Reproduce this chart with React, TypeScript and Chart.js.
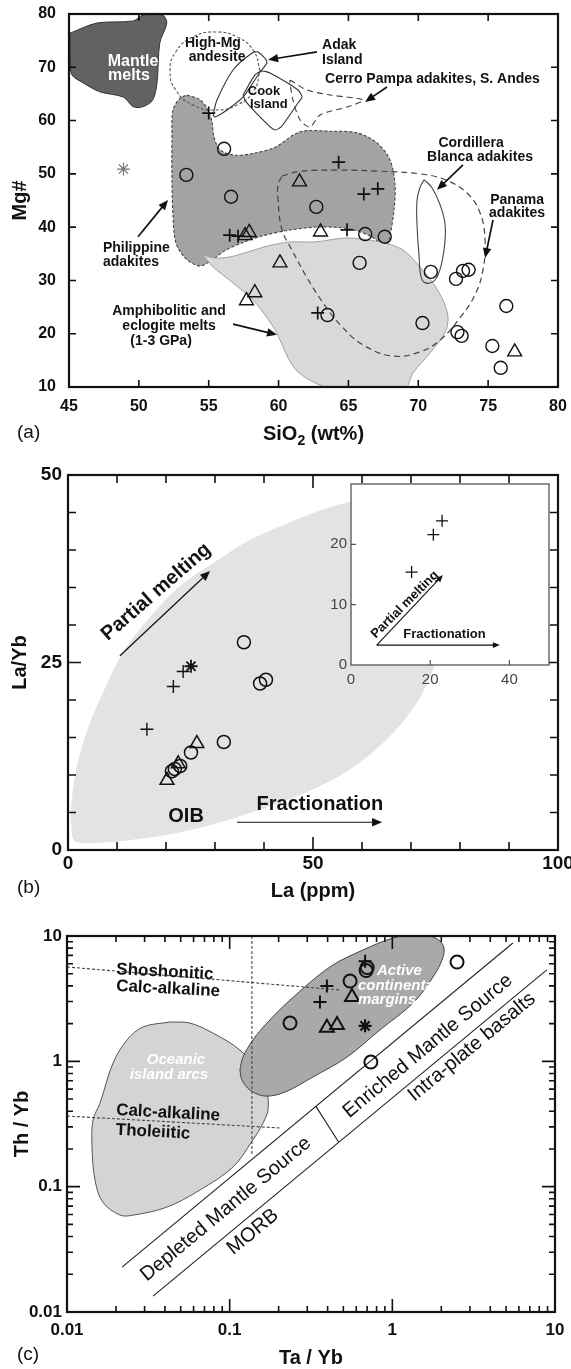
import React, { useEffect, useRef } from 'react';
import { Chart, registerables } from 'chart.js';

Chart.register(...registerables);

const FONT = '"Liberation Sans", Arial, Helvetica, sans-serif';
const INK = '#111';

// ---------------- Panel (a): SiO2 vs Mg# ----------------
const aXTicks = [45, 50, 55, 60, 65, 70, 75, 80];
const aXLabels = ['45', '50', '55', '60', '65', '70', '75', '80'];
const aYTicks = [10, 20, 30, 40, 50, 60, 70, 80];
const aYLabels = ['10', '20', '30', '40', '50', '60', '70', '80'];

const aCircleSiO2 = [56.1, 53.4, 56.6, 62.7, 66.2, 67.6, 65.8, 70.9, 72.7, 73.2, 73.6, 76.3, 63.5, 70.3, 72.8, 73.1, 75.3, 75.9];
const aCircleMg = [54.7, 49.8, 45.7, 43.8, 38.7, 38.2, 33.3, 31.6, 30.3, 31.8, 32.0, 25.2, 23.5, 22.0, 20.3, 19.6, 17.7, 13.6];
const aCrossSiO2 = [55.0, 64.3, 66.1, 67.1, 56.5, 57.1, 64.9, 62.8];
const aCrossMg = [61.4, 52.2, 46.2, 47.2, 38.5, 38.3, 39.5, 23.9];
const aTriSiO2 = [61.5, 57.6, 57.9, 63.0, 60.1, 58.3, 57.7, 76.9];
const aTriMg = [48.5, 38.4, 39.0, 39.1, 33.3, 27.7, 26.2, 16.6];
const aStarSiO2 = [48.9];
const aStarMg = [50.9];

const mantleX = [45.07, 47.0, 49.6, 50.3, 51.7, 52.0, 51.5, 51.3, 51.0, 50.3, 49.6, 48.9, 47.2, 46.0, 45.2, 45.1];
const mantleY = [76.4, 78.3, 78.7, 79.8, 79.8, 78.3, 74.6, 67.1, 63.9, 62.6, 62.6, 64.4, 65.4, 67.1, 68.6, 71.4];

const philX = [53.45, 54.38, 54.95, 55.24, 55.38, 55.81, 56.88, 58.31, 59.75, 61.54, 63.68, 65.62, 67.05, 67.98, 68.34, 68.26, 67.98, 67.69, 66.69, 65.11, 62.97, 60.82, 58.82, 57.38, 56.24, 55.24, 54.38, 53.38, 52.66, 52.44, 52.37, 52.37, 52.44, 52.95];
const philY = [64.8, 63.9, 62.0, 59.7, 56.9, 54.5, 53.5, 53.9, 55.0, 57.9, 58.0, 57.7, 55.8, 52.6, 47.9, 43.2, 38.5, 36.3, 38.16, 39.66, 40.04, 39.47, 38.35, 37.04, 35.72, 33.85, 32.72, 34.03, 37.0, 42.3, 48.9, 56.4, 62.0, 64.2];

const amphX = [54.59, 55.45, 56.52, 57.81, 59.24, 60.82, 62.61, 64.90, 67.26, 68.91, 70.13, 71.06, 71.77, 72.13, 71.92, 70.84, 69.62, 69.05, 64.40, 62.61, 61.39, 60.68, 60.10, 59.53, 58.17, 56.74, 55.31];
const amphY = [34.78, 34.22, 34.41, 35.35, 36.47, 37.22, 37.22, 37.97, 37.22, 35.72, 32.5, 29.5, 26.3, 23.1, 20.2, 16.4, 12.65, 9.83, 9.27, 10.77, 12.83, 15.46, 18.84, 21.65, 26.34, 29.53, 32.53];

const highMgX = [58.67, 58.24, 57.06, 55.45, 53.84, 52.66, 52.23, 52.66, 53.84, 55.45, 57.06, 58.24];
const highMgY = [69.31, 72.96, 75.65, 76.62, 75.65, 72.96, 69.31, 65.65, 62.96, 61.99, 62.96, 65.65];

const adakX = [55.31, 55.59, 56.74, 58.10, 58.53, 59.17, 58.67, 57.46, 56.31, 55.45];
const adakY = [61.05, 63.86, 69.49, 72.68, 72.87, 71.0, 69.12, 64.43, 61.99, 60.68];

const cookX = [57.46, 58.31, 58.82, 59.39, 61.39, 61.68, 61.39, 60.18, 59.75, 59.32, 57.67];
const cookY = [64.80, 68.56, 69.31, 68.93, 65.74, 64.43, 63.30, 58.80, 58.24, 58.99, 63.49];

const cerroX = [60.82, 62.04, 63.68, 66.05, 64.90, 62.97, 62.25, 61.54, 61.03, 60.82];
const cerroY = [67.62, 65.74, 64.80, 63.86, 62.55, 61.05, 58.80, 60.11, 63.86, 67.05];

const cordX = [70.41, 70.98, 71.56, 71.92, 71.84, 71.41, 70.84, 70.27, 70.05, 69.91, 69.91, 70.13];
const cordY = [48.9, 47.4, 44.2, 40.4, 35.7, 31.0, 29.5, 30.1, 34.8, 40.4, 45.1, 47.5];

const panamaX = [60.25, 61.54, 64.40, 67.26, 70.13, 71.92, 73.49, 74.42, 74.78, 74.63, 74.06, 72.99, 71.56, 70.13, 68.19, 66.05, 64.40, 63.18, 62.04, 60.96, 60.25, 59.96, 59.96];
const panamaY = [49.6, 50.5, 50.7, 50.5, 50.0, 48.9, 46.4, 42.7, 37.6, 32.0, 27.3, 23.0, 18.8, 16.6, 15.8, 17.9, 21.7, 25.8, 30.5, 35.7, 39.5, 45.1, 47.9];

// ---------------- Panel (b): La vs La/Yb ----------------
const bXTicks = [0, 50, 100];
const bXLabels = ['0', '50', '100'];
const bYTicks = [0, 25, 50];
const bYLabels = ['0', '25', '50'];

const bCircleLa = [35.9, 39.2, 40.4, 31.8, 25.1, 22.9, 21.8, 21.2];
const bCircleRatio = [27.7, 22.2, 22.7, 14.4, 13.0, 11.2, 10.8, 10.5];
const bCrossLa = [23.5, 21.5, 16.1];
const bCrossRatio = [23.8, 21.8, 16.1];
const bTriLa = [26.3, 22.5, 20.2];
const bTriRatio = [14.2, 11.5, 9.3];
const bStarLa = [25.1];
const bStarRatio = [24.5];

const oibX = [0.8, 0.6, 1.2, 2.5, 4.5, 7.5, 10.6, 13.3, 18, 23, 29.7, 37, 45, 52, 58, 64, 70, 75, 77.5, 78.5, 78, 76.8, 75.5, 74.8, 72, 68, 63, 57, 51, 45, 37, 29, 20, 11, 4, 1.5];
const oibY = [1.9, 5, 9, 13, 17, 21.5, 25.7, 28.3, 32, 35.3, 38.3, 41.3, 43.6, 45.4, 46.5, 47.2, 47.3, 46.8, 45, 41, 35, 30, 26, 24.5, 20.5, 16.8, 13.5, 10.5, 8.4, 6.7, 4.9, 3.3, 2.0, 1.2, 0.9, 1.1];

// inset
const iXTicks = [0, 20, 40];
const iXLabels = ['0', '20', '40'];
const iYTicks = [0, 10, 20];
const iYLabels = ['0', '10', '20'];
const iCrossLa = [15.3, 20.8, 23.0];
const iCrossRatio = [15.4, 21.6, 23.9];

// ---------------- Panel (c): Ta/Yb vs Th/Yb ----------------
const cTicks = [0.01, 0.1, 1, 10];
const cLabels = ['0.01', '0.1', '1', '10'];

const cCircleTa = [2.5, 0.70, 0.69, 0.55, 0.235, 0.738];
const cCircleTh = [6.2, 5.6, 5.3, 4.37, 2.02, 0.987];
const cCrossTa = [0.68, 0.396, 0.359];
const cCrossTh = [6.3, 3.99, 2.97];
const cTriTa = [0.565, 0.396, 0.457];
const cTriTh = [3.26, 1.85, 1.95];
const cStarTa = [0.68];
const cStarTh = [1.92];

const oceanicX = [0.0430, 0.0570, 0.0789, 0.1156, 0.158, 0.1695, 0.172, 0.158, 0.139, 0.1047, 0.0656, 0.0412, 0.0255, 0.0212, 0.0166, 0.01486, 0.01425, 0.01445, 0.01596, 0.01918, 0.02338, 0.0293];
const oceanicY = [2.06, 2.02, 1.68, 1.23, 0.778, 0.590, 0.408, 0.310, 0.236, 0.1433, 0.0940, 0.0687, 0.0593, 0.0593, 0.0753, 0.1129, 0.207, 0.340, 0.465, 0.968, 1.48, 1.88];

const activeX = [0.1156, 0.1207, 0.139, 0.1695, 0.235, 0.413, 0.659, 1.01, 1.34, 1.78, 2.05, 2.05, 1.78, 1.34, 0.839, 0.526, 0.325, 0.219, 0.165, 0.1333, 0.119];
const activeY = [0.853, 1.08, 1.48, 2.02, 3.08, 5.66, 7.73, 9.64, 10.2, 9.82, 8.47, 6.79, 4.71, 2.92, 1.78, 1.08, 0.750, 0.569, 0.528, 0.590, 0.710];

const shoshX = [0.01, 0.477];
const shoshY = [5.66, 3.71];
const tholX = [0.01, 0.204];
const tholY = [0.366, 0.294];
const vertX = [0.137, 0.137];
const vertY = [10, 0.179];
const upperX = [0.0218, 5.51];
const upperY = [0.0228, 8.80];
const lowerX = [0.0338, 8.91];
const lowerY = [0.0134, 5.36];
const sepX = [0.339, 0.468];
const sepY = [0.4375, 0.226];

// ---------------- helpers ----------------
const pts = (xs: number[], ys: number[]) => xs.map((x, i) => ({ x, y: ys[i] }));
const closedPts = (xs: number[], ys: number[]) => {
  const p = pts(xs, ys);
  return [...p, p[0]];
};

function pointSet(xs: number[], ys: number[], style: string, r: number, lw: number, color = INK) {
  return {
    data: pts(xs, ys), showLine: false, pointStyle: style, pointRadius: r, pointHoverRadius: r,
    pointBorderWidth: lw, pointHoverBorderWidth: lw, pointBorderColor: color,
    pointBackgroundColor: 'rgba(0,0,0,0)',
  };
}
function regionSet(xs: number[], ys: number[], fillColor: string | null, lineColor: string | null, lw = 1, dash: number[] = [], tension = 0.35) {
  return {
    data: closedPts(xs, ys), showLine: true, fill: fillColor ? 'shape' : false,
    backgroundColor: fillColor || 'rgba(0,0,0,0)', borderColor: lineColor || 'rgba(0,0,0,0)',
    borderWidth: lineColor ? lw : 0, borderDash: dash, pointRadius: 0, pointHoverRadius: 0,
    tension, capBezierPoints: false, clip: 0,
  };
}
function lineSet(xs: number[], ys: number[], color: string, lw: number, dash: number[] = []) {
  return {
    data: pts(xs, ys), showLine: true, fill: false, borderColor: color, borderWidth: lw, borderDash: dash,
    pointRadius: 0, pointHoverRadius: 0, tension: 0, clip: 0,
  };
}

function axis(type: string, min: number, max: number, ticks: number[], labels: string[], font: any, pad: number, size: number, horizontal: boolean, color = INK) {
  return {
    type, min, max,
    grid: { display: false, drawTicks: false },
    border: { display: false },
    ticks: {
      autoSkip: false, maxRotation: 0, minRotation: 0, padding: pad, font, color,
      callback: (_v: any, i: number) => labels[i],
    },
    afterBuildTicks: (s: any) => { s.ticks = ticks.map((v) => ({ value: v })); },
    afterFit: (s: any) => {
      if (horizontal) { s.height = size; s.paddingLeft = 0; s.paddingRight = 0; }
      else { s.width = size; s.paddingTop = 0; s.paddingBottom = 0; }
    },
  };
}

const fontStr = (size: number, weight = 'bold', style = 'normal') => `${style} ${weight} ${size}px ${FONT}`;

function drawArrow(ctx: CanvasRenderingContext2D, x1: number, y1: number, x2: number, y2: number, head: number, lw: number) {
  const ang = Math.atan2(y2 - y1, x2 - x1);
  ctx.save();
  ctx.strokeStyle = INK; ctx.fillStyle = INK; ctx.lineWidth = lw; ctx.setLineDash([]);
  ctx.beginPath();
  ctx.moveTo(x1, y1);
  ctx.lineTo(x2 - Math.cos(ang) * head * 0.8, y2 - Math.sin(ang) * head * 0.8);
  ctx.stroke();
  ctx.beginPath();
  ctx.moveTo(x2, y2);
  ctx.lineTo(x2 - Math.cos(ang) * head + Math.sin(ang) * head * 0.42, y2 - Math.sin(ang) * head - Math.cos(ang) * head * 0.42);
  ctx.lineTo(x2 - Math.cos(ang) * head - Math.sin(ang) * head * 0.42, y2 - Math.sin(ang) * head + Math.cos(ang) * head * 0.42);
  ctx.closePath();
  ctx.fill();
  ctx.restore();
}

function makeDecor(d: any) {
  return {
    id: 'decor',
    beforeDatasetsDraw(chart: any) {
      if (!d.background) return;
      const { ctx, chartArea: a } = chart;
      ctx.save();
      ctx.fillStyle = d.background;
      ctx.fillRect(a.left, a.top, a.right - a.left, a.bottom - a.top);
      ctx.restore();
    },
    afterDatasetsDraw(chart: any) {
      const { ctx, chartArea: a } = chart;
      const sx = chart.scales.x, sy = chart.scales.y;
      const px = (v: number) => sx.getPixelForValue(v);
      const py = (v: number) => sy.getPixelForValue(v);
      ctx.save();
      for (const ar of d.arrows || []) {
        drawArrow(ctx, px(ar.x1), py(ar.y1), px(ar.x2), py(ar.y2), ar.head ?? 10, ar.lw ?? 1.7);
      }
      for (const t of d.texts || []) {
        ctx.save();
        ctx.translate(px(t.x), py(t.y));
        let ang = ((t.angle ?? 0) * Math.PI) / 180;
        if (t.along) ang = Math.atan2(py(t.along[3]) - py(t.along[1]), px(t.along[2]) - px(t.along[0]));
        ctx.rotate(ang);
        ctx.font = fontStr(t.size, t.weight ?? 'bold', t.italic ? 'italic' : 'normal');
        ctx.fillStyle = t.color ?? INK;
        ctx.textAlign = t.align ?? 'center';
        ctx.textBaseline = 'middle';
        ctx.fillText(t.t, 0, 0);
        ctx.restore();
      }
      // inward ticks
      ctx.strokeStyle = d.tickColor ?? INK;
      ctx.lineWidth = d.tickWidth ?? 1.6;
      ctx.setLineDash([]);
      ctx.beginPath();
      for (const [vals, len] of d.xTicks) {
        for (const v of vals) {
          const x = px(v);
          ctx.moveTo(x, a.bottom); ctx.lineTo(x, a.bottom - len);
          if (d.allSides) { ctx.moveTo(x, a.top); ctx.lineTo(x, a.top + len); }
        }
      }
      for (const [vals, len] of d.yTicks) {
        for (const v of vals) {
          const y = py(v);
          ctx.moveTo(a.left, y); ctx.lineTo(a.left + len, y);
          if (d.allSides) { ctx.moveTo(a.right, y); ctx.lineTo(a.right - len, y); }
        }
      }
      ctx.stroke();
      // frame
      ctx.lineWidth = d.frame;
      ctx.strokeStyle = d.frameColor ?? INK;
      ctx.strokeRect(a.left, a.top, a.right - a.left, a.bottom - a.top);
      // titles
      ctx.fillStyle = INK;
      if (d.xTitle) {
        const parts = d.xTitle.parts;
        const size = d.xTitle.size;
        const widths = parts.map((p: any) => { ctx.font = fontStr(p.sub ? size * 0.7 : size); return ctx.measureText(p.t).width; });
        const total = widths.reduce((s: number, w: number) => s + w, 0);
        let x = (a.left + a.right) / 2 - total / 2;
        const base = a.bottom + d.xTitle.dy + size * 0.36;
        ctx.textAlign = 'left';
        ctx.textBaseline = 'alphabetic';
        parts.forEach((p: any, i: number) => {
          ctx.font = fontStr(p.sub ? size * 0.7 : size);
          ctx.fillText(p.t, x, base + (p.sub ? size * 0.25 : 0));
          x += widths[i];
        });
      }
      if (d.yTitle) {
        ctx.save();
        ctx.translate(d.yTitle.x, (a.top + a.bottom) / 2);
        ctx.rotate(-Math.PI / 2);
        ctx.font = fontStr(d.yTitle.size);
        ctx.textAlign = 'center';
        ctx.textBaseline = 'middle';
        ctx.fillText(d.yTitle.t, 0, 0);
        ctx.restore();
      }
      if (d.label) {
        ctx.font = fontStr(d.label.size, 'normal');
        ctx.textAlign = 'left';
        ctx.textBaseline = 'middle';
        ctx.fillText(d.label.t, d.label.x, d.label.y);
      }
      ctx.restore();
    },
  };
}

function baseOptions(padding: any, scales: any) {
  return {
    responsive: false, maintainAspectRatio: false, animation: false, devicePixelRatio: 1, events: [],
    layout: { padding },
    plugins: { legend: { display: false }, tooltip: { enabled: false } },
    scales,
  };
}

// ---------------- chart configs ----------------
function configA(): any {
  const tickFont = { family: FONT, size: 16, weight: 'bold' };
  return {
    type: 'scatter',
    data: {
      datasets: [
        pointSet(aStarSiO2, aStarMg, 'star', 6.5, 1.2, '#777'),
        pointSet(aCircleSiO2, aCircleMg, 'circle', 6.5, 1.4),
        pointSet(aCrossSiO2, aCrossMg, 'cross', 6.5, 1.7),
        pointSet(aTriSiO2, aTriMg, 'triangle', 8, 1.4),
        regionSet(panamaX, panamaY, null, '#444', 1.2, [6, 4], 0.4),
        regionSet(cordX, cordY, null, '#444', 1.1, [], 0.4),
        regionSet(cerroX, cerroY, null, '#444', 1.1, [6, 4], 0.3),
        regionSet(cookX, cookY, null, '#333', 1.1, [], 0.2),
        regionSet(adakX, adakY, null, '#333', 1.1, [], 0.25),
        regionSet(highMgX, highMgY, null, '#555', 1.1, [3, 2], 0.5),
        regionSet(amphX, amphY, '#d9d9d9', '#a0a0a0', 1.0, [], 0.3),
        regionSet(philX, philY, '#a3a3a3', '#444', 1.1, [3, 2], 0.3),
        regionSet(mantleX, mantleY, '#626262', '#333', 1.0, [], 0.3),
      ],
    },
    options: baseOptions({ left: 0, right: 13, top: 14, bottom: 0 }, {
      x: axis('linear', 45, 80, aXTicks, aXLabels, tickFont, 10, 63, true),
      y: axis('linear', 10, 80, aYTicks, aYLabels, tickFont, 13, 69, false),
    }),
    plugins: [makeDecor({
      frame: 2.2, allSides: true,
      xTicks: [[aXTicks, 7]], yTicks: [[aYTicks, 7]],
      xTitle: { parts: [{ t: 'SiO' }, { t: '2', sub: true }, { t: ' (wt%)' }], dy: 46, size: 20 },
      yTitle: { t: 'Mg#', x: 20, size: 20 },
      label: { t: '(a)', x: 17, y: 433, size: 19 },
      texts: [
        { x: 49.58, y: 71.0, t: 'Mantle', size: 16, color: '#fff' },
        { x: 49.29, y: 68.4, t: 'melts', size: 16, color: '#fff' },
        { x: 55.3, y: 74.6, t: 'High-Mg', size: 14 },
        { x: 55.6, y: 71.9, t: 'andesite', size: 14 },
        { x: 63.11, y: 74.2, t: 'Adak', size: 14, align: 'left' },
        { x: 63.11, y: 71.4, t: 'Island', size: 14, align: 'left' },
        { x: 58.96, y: 65.55, t: 'Cook', size: 13 },
        { x: 59.3, y: 63.1, t: 'Island', size: 13 },
        { x: 63.33, y: 67.8, t: 'Cerro Pampa adakites, S. Andes', size: 14, align: 'left' },
        { x: 73.78, y: 55.8, t: 'Cordillera', size: 14 },
        { x: 74.42, y: 53.2, t: 'Blanca adakites', size: 14 },
        { x: 77.07, y: 45.1, t: 'Panama', size: 14 },
        { x: 77.07, y: 42.7, t: 'adakites', size: 14 },
        { x: 47.43, y: 36.1, t: 'Philippine', size: 14, align: 'left' },
        { x: 47.43, y: 33.5, t: 'adakites', size: 14, align: 'left' },
        { x: 52.16, y: 24.3, t: 'Amphibolitic and', size: 14 },
        { x: 52.16, y: 21.5, t: 'eclogite melts', size: 14 },
        { x: 51.59, y: 18.6, t: '(1-3 GPa)', size: 14 },
      ],
      arrows: [
        { x1: 62.75, y1: 72.9, x2: 59.25, y2: 71.4 },
        { x1: 67.76, y1: 66.3, x2: 66.19, y2: 63.5 },
        { x1: 73.2, y1: 51.7, x2: 71.34, y2: 47.0 },
        { x1: 75.35, y1: 41.35, x2: 74.78, y2: 34.2 },
        { x1: 49.94, y1: 38.2, x2: 52.09, y2: 45.1 },
        { x1: 56.74, y1: 21.8, x2: 59.89, y2: 19.8 },
      ],
    })],
  };
}

function configB(): any {
  const tickFont = { family: FONT, size: 19, weight: 'bold' };
  return {
    type: 'scatter',
    data: {
      datasets: [
        pointSet(bStarLa, bStarRatio, 'star', 6.5, 1.8),
        pointSet(bCircleLa, bCircleRatio, 'circle', 6.5, 1.5),
        pointSet(bCrossLa, bCrossRatio, 'cross', 6.5, 1.4),
        pointSet(bTriLa, bTriRatio, 'triangle', 8, 1.5),
        regionSet(oibX, oibY, '#e3e3e3', null, 0, [], 0.3),
      ],
    },
    options: baseOptions({ left: 0, right: 13, top: 25, bottom: 0 }, {
      x: axis('linear', 0, 100, bXTicks, bXLabels, tickFont, 2, 60, true),
      y: axis('linear', 0, 50, bYTicks, bYLabels, tickFont, 6, 68, false),
    }),
    plugins: [makeDecor({
      frame: 2.2, allSides: true,
      xTicks: [[[10, 20, 30, 40, 60, 70, 80, 90], 8], [bXTicks, 13]],
      yTicks: [[[5, 10, 15, 20, 30, 35, 40, 45], 8], [bYTicks, 13]],
      xTitle: { parts: [{ t: 'La (ppm)' }], dy: 40, size: 20 },
      yTitle: { t: 'La/Yb', x: 20, size: 20 },
      label: { t: '(b)', x: 17, y: 438, size: 19 },
      texts: [
        { x: 18.0, y: 34.4, t: 'Partial melting', size: 20, angle: -41 },
        { x: 24.1, y: 4.5, t: 'OIB', size: 20 },
        { x: 51.4, y: 6.1, t: 'Fractionation', size: 20 },
      ],
      arrows: [
        { x1: 10.6, y1: 25.9, x2: 29.0, y2: 37.2, lw: 1.2 },
        { x1: 34.5, y1: 3.7, x2: 64.1, y2: 3.7, lw: 1.2 },
      ],
    })],
  };
}

function configInset(): any {
  const tickFont = { family: FONT, size: 15, weight: 'normal' };
  return {
    type: 'scatter',
    data: {
      datasets: [pointSet(iCrossLa, iCrossRatio, 'cross', 6, 1.3)],
    },
    options: baseOptions({ left: 0, right: 11, top: 14, bottom: 0 }, {
      x: axis('linear', 0, 50, iXTicks, iXLabels, tickFont, 6, 35, true, '#444'),
      y: axis('linear', 0, 30, iYTicks, iYLabels, tickFont, 4, 51, false, '#444'),
    }),
    plugins: [makeDecor({
      frame: 1.3, frameColor: '#555', background: '#fff', allSides: false, tickColor: '#555', tickWidth: 1.2,
      xTicks: [[[20, 40], 5]], yTicks: [[[10, 20], 5]],
      texts: [
        { x: 13.6, y: 10.0, t: 'Partial melting', size: 13, angle: -45 },
        { x: 23.6, y: 5.0, t: 'Fractionation', size: 13 },
      ],
      arrows: [
        { x1: 6.5, y1: 3.3, x2: 23.2, y2: 14.9, head: 7, lw: 1.1 },
        { x1: 6.5, y1: 3.3, x2: 37.6, y2: 3.3, head: 7, lw: 1.1 },
      ],
    })],
  };
}

function configC(): any {
  const tickFont = { family: FONT, size: 17, weight: 'bold' };
  const minors: number[] = [];
  [0.01, 0.1, 1].forEach((d) => { for (let k = 2; k <= 9; k++) minors.push(d * k); });
  const white = '#fff';
  return {
    type: 'scatter',
    data: {
      datasets: [
        pointSet(cStarTa, cStarTh, 'star', 6.5, 2.2),
        pointSet(cCircleTa, cCircleTh, 'circle', 6.5, 2.0),
        pointSet(cCrossTa, cCrossTh, 'cross', 6.5, 2.0),
        pointSet(cTriTa, cTriTh, 'triangle', 8, 2.0),
        lineSet(shoshX, shoshY, '#444', 1.1, [3, 2]),
        lineSet(tholX, tholY, '#444', 1.1, [3, 2]),
        lineSet(vertX, vertY, '#444', 1.1, [3, 2]),
        lineSet(upperX, upperY, '#222', 1.1),
        lineSet(lowerX, lowerY, '#222', 1.1),
        lineSet(sepX, sepY, '#222', 1.1),
        regionSet(activeX, activeY, '#a9a9a9', '#444', 1.0, [], 0.35),
        regionSet(oceanicX, oceanicY, '#d4d4d4', '#555', 1.0, [], 0.35),
      ],
    },
    options: baseOptions({ left: 0, right: 16, top: 26, bottom: 0 }, {
      x: axis('logarithmic', 0.01, 10, cTicks, cLabels, tickFont, 8, 57, true),
      y: axis('logarithmic', 0.01, 10, cTicks, cLabels, tickFont, 5, 67, false),
    }),
    plugins: [makeDecor({
      frame: 2.2, allSides: true,
      xTicks: [[minors, 6], [cTicks, 13]], yTicks: [[minors, 6], [cTicks, 13]],
      xTitle: { parts: [{ t: 'Ta / Yb' }], dy: 45, size: 20 },
      yTitle: { t: 'Th / Yb', x: 22, size: 20 },
      label: { t: '(c)', x: 17, y: 445, size: 19 },
      texts: [
        { x: 0.040, y: 5.16, t: 'Shoshonitic', size: 17, angle: 3 },
        { x: 0.0418, y: 3.78, t: 'Calc-alkaline', size: 17, angle: 3 },
        { x: 0.0418, y: 0.387, t: 'Calc-alkaline', size: 17, angle: 3 },
        { x: 0.0338, y: 0.273, t: 'Tholeiitic', size: 17, angle: 3 },
        { x: 0.0468, y: 1.024, t: 'Oceanic', size: 15, italic: true, color: white },
        { x: 0.0424, y: 0.778, t: 'island arcs', size: 15, italic: true, color: white },
        { x: 0.804, y: 5.26, t: 'Active', size: 15, italic: true, color: white, align: 'left' },
        { x: 0.6145, y: 3.99, t: 'continental', size: 15, italic: true, color: white, align: 'left' },
        { x: 0.6145, y: 3.08, t: 'margins', size: 15, italic: true, color: white, align: 'left' },
        { x: 1.656, y: 1.324, t: 'Enriched Mantle Source', size: 20, weight: 'normal', along: [upperX[0], upperY[0], upperX[1], upperY[1]] },
        { x: 3.08, y: 1.30, t: 'Intra-plate basalts', size: 20, weight: 'normal', along: [upperX[0], upperY[0], upperX[1], upperY[1]] },
        { x: 0.0948, y: 0.0662, t: 'Depleted Mantle Source', size: 20, weight: 'normal', along: [upperX[0], upperY[0], upperX[1], upperY[1]] },
        { x: 0.139, y: 0.0435, t: 'MORB', size: 20, weight: 'normal', along: [upperX[0], upperY[0], upperX[1], upperY[1]] },
      ],
      arrows: [],
    })],
  };
}

export default function App() {
  const aRef = useRef<HTMLCanvasElement>(null);
  const bRef = useRef<HTMLCanvasElement>(null);
  const iRef = useRef<HTMLCanvasElement>(null);
  const cRef = useRef<HTMLCanvasElement>(null);

  useEffect(() => {
    const charts = [
      new Chart(aRef.current as HTMLCanvasElement, configA()),
      new Chart(bRef.current as HTMLCanvasElement, configB()),
      new Chart(iRef.current as HTMLCanvasElement, configInset()),
      new Chart(cRef.current as HTMLCanvasElement, configC()),
    ];
    return () => charts.forEach((c) => c.destroy());
  }, []);

  const abs = (left: number, top: number, w: number, h: number): React.CSSProperties => ({
    position: 'absolute', left, top, width: w, height: h, display: 'block',
  });

  return (
    <div style={{ position: 'absolute', left: 0, top: 0, width: 571, height: 1369, background: '#fff', overflow: 'hidden' }}>
      <canvas ref={aRef} width={571} height={450} style={abs(0, 0, 571, 450)} />
      <canvas ref={bRef} width={571} height={460} style={abs(0, 450, 571, 460)} />
      <canvas ref={iRef} width={260} height={230} style={abs(300, 470, 260, 230)} />
      <canvas ref={cRef} width={571} height={459} style={abs(0, 910, 571, 459)} />
    </div>
  );
}
